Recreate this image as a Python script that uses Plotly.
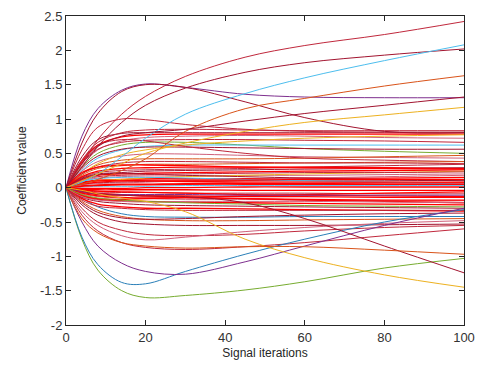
import plotly.graph_objects as go

# sample positions (signal iterations) shared by every curve
XS = [0, 4, 8, 14, 20, 30, 45, 60, 80, 100]

# ---- large excursion curves ----
top_a    = [0, 0.35, 0.70, 1.07, 1.33, 1.62, 1.90, 2.07, 2.23, 2.42]
top_b    = [0, 0.30, 0.60, 0.95, 1.20, 1.45, 1.68, 1.82, 1.93, 2.02]
hump_p   = [0, 0.75, 1.15, 1.42, 1.51, 1.46, 1.36, 1.32, 1.31, 1.31]
hump_r   = [0, 0.65, 1.08, 1.40, 1.50, 1.46, 1.25, 1.02, 0.82, 0.80]
cyan_up  = [0, 0.08, 0.20, 0.45, 0.72, 1.07, 1.37, 1.60, 1.85, 2.08]
orng_up  = [0, 0.05, 0.12, 0.25, 0.42, 0.82, 1.15, 1.30, 1.48, 1.63]
dred_up  = [0, 0.35, 0.60, 0.75, 0.80, 0.85, 0.97, 1.08, 1.20, 1.32]
yell_up  = [0, 0.10, 0.20, 0.35, 0.50, 0.65, 0.82, 0.95, 1.06, 1.17]
green_dn = [0, -0.75, -1.20, -1.50, -1.60, -1.57, -1.49, -1.37, -1.17, -1.03]
blue_dn  = [0, -0.72, -1.12, -1.38, -1.40, -1.22, -0.97, -0.75, -0.50, -0.32]
purp_dn  = [0, -0.50, -0.85, -1.10, -1.22, -1.26, -1.08, -0.85, -0.55, -0.30]
red_fall = [0, -0.05, -0.09, -0.11, -0.12, -0.13, -0.22, -0.45, -0.85, -1.24]
yel_fall = [0, -0.04, -0.09, -0.15, -0.20, -0.35, -0.75, -1.02, -1.27, -1.45]
brn_flat = [0, -0.45, -0.66, -0.80, -0.85, -0.88, -0.86, -0.86, -0.91, -0.97]

# ---- medium positive curves ----
m01 = [0, 0.45, 0.70, 0.79, 0.80, 0.80, 0.80, 0.80, 0.80, 0.80]
m02 = [0, 0.38, 0.62, 0.74, 0.77, 0.78, 0.78, 0.78, 0.78, 0.78]
m03 = [0, 0.55, 0.88, 1.00, 0.99, 0.92, 0.85, 0.82, 0.81, 0.81]
m04 = [0, 0.32, 0.55, 0.68, 0.73, 0.75, 0.76, 0.75, 0.73, 0.72]
m05 = [0, 0.30, 0.50, 0.62, 0.66, 0.66, 0.62, 0.57, 0.53, 0.50]
m06 = [0, 0.25, 0.43, 0.55, 0.60, 0.62, 0.62, 0.62, 0.62, 0.62]
m07 = [0, 0.35, 0.56, 0.66, 0.69, 0.70, 0.70, 0.69, 0.68, 0.66]
m08 = [0, 0.28, 0.46, 0.56, 0.59, 0.59, 0.58, 0.57, 0.56, 0.56]
m09 = [0, 0.24, 0.38, 0.46, 0.49, 0.49, 0.47, 0.45, 0.44, 0.43]
m10 = [0, 0.20, 0.33, 0.40, 0.42, 0.42, 0.42, 0.43, 0.45, 0.47]
m11 = [0, 0.40, 0.66, 0.80, 0.84, 0.85, 0.84, 0.83, 0.83, 0.83]
m12 = [0, 0.20, 0.35, 0.48, 0.55, 0.62, 0.68, 0.72, 0.75, 0.77]
m13 = [0, 0.40, 0.62, 0.70, 0.68, 0.60, 0.50, 0.43, 0.40, 0.38]

# ---- medium negative curves ----
n01 = [0, -0.30, -0.50, -0.62, -0.68, -0.70, -0.68, -0.63, -0.58, -0.55]
n02 = [0, -0.25, -0.40, -0.50, -0.53, -0.55, -0.55, -0.55, -0.54, -0.53]
n03 = [0, -0.15, -0.28, -0.38, -0.42, -0.43, -0.43, -0.42, -0.42, -0.42]
n04 = [0, -0.35, -0.55, -0.70, -0.76, -0.72, -0.64, -0.58, -0.52, -0.48]
n05 = [0, -0.40, -0.63, -0.80, -0.87, -0.90, -0.86, -0.80, -0.70, -0.60]
n06 = [0, -0.20, -0.33, -0.42, -0.46, -0.48, -0.48, -0.47, -0.46, -0.45]
n07 = [0, -0.22, -0.36, -0.44, -0.46, -0.45, -0.42, -0.40, -0.38, -0.37]

# ---- dense band near zero ----
d01 = [0, 0.15, 0.22, 0.25, 0.26, 0.27, 0.28, 0.30, 0.32, 0.34]
d02 = [0, 0.12, 0.18, 0.20, 0.21, 0.22, 0.23, 0.24, 0.25, 0.26]
d03 = [0, 0.10, 0.14, 0.16, 0.17, 0.17, 0.18, 0.18, 0.19, 0.20]
d04 = [0, 0.08, 0.11, 0.12, 0.13, 0.13, 0.13, 0.14, 0.14, 0.15]
d05 = [0, 0.05, 0.07, 0.08, 0.09, 0.09, 0.10, 0.10, 0.10, 0.11]
d06 = [0, 0.03, 0.04, 0.05, 0.05, 0.06, 0.06, 0.06, 0.07, 0.07]
d07 = [0, 0.01, 0.02, 0.02, 0.02, 0.03, 0.03, 0.03, 0.03, 0.03]
d08 = [0, -0.02, -0.03, -0.03, -0.03, -0.03, -0.04, -0.04, -0.04, -0.04]
d09 = [0, -0.04, -0.06, -0.07, -0.07, -0.08, -0.08, -0.08, -0.09, -0.09]
d10 = [0, -0.07, -0.10, -0.11, -0.12, -0.12, -0.13, -0.13, -0.14, -0.14]
d11 = [0, -0.09, -0.13, -0.15, -0.16, -0.17, -0.17, -0.18, -0.19, -0.19]
d12 = [0, -0.12, -0.17, -0.19, -0.20, -0.21, -0.22, -0.23, -0.24, -0.25]
d13 = [0, -0.14, -0.20, -0.23, -0.25, -0.26, -0.27, -0.28, -0.29, -0.30]
d14 = [0, 0.18, 0.28, 0.32, 0.34, 0.34, 0.35, 0.36, 0.37, 0.38]
d15 = [0, 0.20, 0.30, 0.36, 0.38, 0.38, 0.37, 0.36, 0.36, 0.35]
d16 = [0, -0.16, -0.24, -0.28, -0.30, -0.30, -0.31, -0.32, -0.33, -0.34]
d17 = [0, 0.06, 0.10, 0.12, 0.14, 0.16, 0.18, 0.20, 0.22, 0.24]
d18 = [0, -0.05, -0.08, -0.10, -0.12, -0.14, -0.16, -0.18, -0.20, -0.22]
d19 = [0, 0.04, 0.06, 0.07, 0.08, 0.10, 0.12, 0.14, 0.16, 0.18]
d20 = [0, -0.03, -0.05, -0.06, -0.07, -0.08, -0.10, -0.11, -0.12, -0.13]
d21 = [0, 0.13, 0.19, 0.21, 0.20, 0.18, 0.16, 0.14, 0.12, 0.10]
d22 = [0, -0.11, -0.16, -0.17, -0.16, -0.14, -0.12, -0.10, -0.08, -0.06]
d23 = [0, 0.09, 0.13, 0.15, 0.15, 0.14, 0.12, 0.10, 0.08, 0.05]
d24 = [0, -0.08, -0.12, -0.14, -0.15, -0.15, -0.16, -0.17, -0.18, -0.18]
d25 = [0, 0.11, 0.16, 0.18, 0.19, 0.20, 0.21, 0.22, 0.22, 0.23]
d26 = [0, 0.02, 0.03, 0.04, 0.04, 0.05, 0.05, 0.05, 0.05, 0.05]
d27 = [0, -0.06, -0.09, -0.10, -0.10, -0.10, -0.11, -0.11, -0.11, -0.11]
d28 = [0, 0.07, 0.10, 0.10, 0.10, 0.09, 0.08, 0.08, 0.08, 0.08]
d29 = [0, -0.13, -0.18, -0.20, -0.21, -0.20, -0.20, -0.20, -0.21, -0.22]
d30 = [0, 0.16, 0.24, 0.28, 0.29, 0.30, 0.30, 0.30, 0.29, 0.28]
d31 = [0, 0.14, 0.20, 0.22, 0.24, 0.25, 0.26, 0.27, 0.28, 0.29]
d32 = [0, -0.01, -0.01, -0.01, 0.00, 0.00, 0.01, 0.01, 0.01, 0.01]
d33 = [0, -0.18, -0.27, -0.30, -0.32, -0.33, -0.33, -0.33, -0.33, -0.33]
d34 = [0, 0.22, 0.30, 0.33, 0.33, 0.32, 0.30, 0.29, 0.28, 0.27]
d35 = [0, -0.10, -0.15, -0.18, -0.20, -0.22, -0.24, -0.26, -0.27, -0.28]
d36 = [0, 0.05, 0.08, 0.10, 0.11, 0.11, 0.11, 0.12, 0.12, 0.12]

X_TICKS = [0, 20, 40, 60, 80, 100]
X_TICK_TEXT = ["0", "20", "40", "60", "80", "100"]
Y_TICKS = [-2, -1.5, -1, -0.5, 0, 0.5, 1, 1.5, 2, 2.5]
Y_TICK_TEXT = ["-2", "-1.5", "-1", "-0.5", "0", "0.5", "1", "1.5", "2", "2.5"]

# ---- styling (colours per curve) ----
RED = "#FF0000"
CRIM = "#C0283C"
DRED = "#A2142F"
PINK = "#D0607A"
PURP = "#7E2F8E"
LBLU = "#4DBEEE"
BLUE = "#2A7FB8"
YELL = "#EDB120"
ORNG = "#D95319"
GRN = "#77AC30"

styled = [
    (m01, DRED), (m02, RED), (m03, CRIM), (m04, PINK), (m05, GRN), (m06, LBLU),
    (m07, CRIM), (m08, DRED), (m09, PINK), (m10, ORNG), (m11, CRIM), (m12, YELL), (m13, CRIM),
    (n01, CRIM), (n02, DRED), (n03, BLUE), (n04, PINK), (n05, CRIM), (n06, ORNG), (n07, DRED),
    (d01, CRIM), (d02, RED), (d03, PINK), (d04, RED), (d05, DRED), (d06, RED),
    (d07, LBLU), (d08, RED), (d09, CRIM), (d10, RED), (d11, PINK), (d12, RED),
    (d13, DRED), (d14, ORNG), (d15, CRIM), (d16, RED), (d17, YELL), (d18, RED),
    (d19, PINK), (d20, RED), (d21, DRED), (d22, RED), (d23, LBLU), (d24, RED),
    (d25, CRIM), (d26, RED), (d27, PURP), (d28, RED), (d29, PINK), (d30, RED),
    (d31, DRED), (d32, RED), (d33, CRIM), (d34, RED), (d35, GRN), (d36, RED),
    (top_a, CRIM), (top_b, DRED), (hump_p, PURP), (hump_r, DRED), (cyan_up, LBLU),
    (orng_up, ORNG), (dred_up, DRED), (yell_up, YELL), (green_dn, GRN), (blue_dn, BLUE),
    (purp_dn, PURP), (red_fall, DRED), (yel_fall, YELL), (brn_flat, ORNG),
]

fig = go.Figure()
for ys, col in styled:
    w = 1.3 if col == RED else 1.0
    fig.add_trace(go.Scatter(x=XS, y=ys, mode="lines",
                             line=dict(color=col, width=w, shape="spline", smoothing=1.0),
                             showlegend=False, hoverinfo="skip"))

axis_font = dict(family="Liberation Sans, Arial, sans-serif", size=13, color="#333333")
fig.update_layout(
    width=484, height=367,
    margin=dict(l=66, r=16, t=9, b=40),
    paper_bgcolor="white", plot_bgcolor="white",
    font=axis_font,
    xaxis=dict(range=[0, 100], tickvals=X_TICKS, ticktext=X_TICK_TEXT,
               ticks="inside", ticklen=5, tickcolor="#262626", mirror="ticks",
               showline=True, linecolor="#262626", linewidth=1, showgrid=False,
               zeroline=False, tickfont=axis_font,
               title=dict(text="Signal iterations", font=dict(size=12, color="#262626"), standoff=5)),
    yaxis=dict(range=[-2, 2.5], tickvals=Y_TICKS, ticktext=Y_TICK_TEXT,
               ticks="inside", ticklen=5, tickcolor="#262626", mirror="ticks",
               showline=True, linecolor="#262626", linewidth=1, showgrid=False,
               zeroline=False, tickfont=axis_font,
               title=dict(text="Coefficient value", font=dict(size=12, color="#262626"), standoff=10)),
)

fig.write_html("out.html")
